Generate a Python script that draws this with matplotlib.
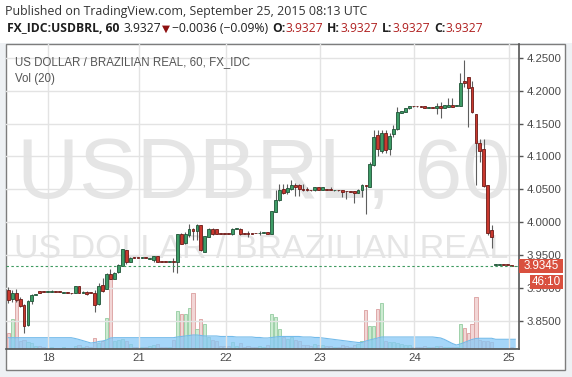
import matplotlib
matplotlib.use("Agg")
import matplotlib.pyplot as plt
import matplotlib.transforms as mtransforms
from matplotlib.patches import Rectangle
import numpy as np

plt.rcParams['font.family'] = ['Liberation Sans', 'DejaVu Sans']

# ---------------- data (USDBRL, 60 min bars, Sep 17-25 2015) ----------------
opens = [3.8971, 3.8834, 3.8919, 3.8834, 3.8743, 3.8432, 3.8804, 3.8895, 3.8945, 3.8941,
         3.8935, 3.8941, 3.8945, 3.8941, 3.8922, 3.8927, 3.8922, 3.8919, 3.9021, 3.8925,
         3.8941, 3.8927, 3.8925, 3.8758, 3.9037, 3.8986, 3.9204, 3.9139, 3.9239, 3.9331,
         3.9570, 3.9392, 3.9462, 3.9457, 3.9455, 3.9460, 3.9438, 3.9418, 3.9479, 3.9400,
         3.9398, 3.9396, 3.9413, 3.9392, 3.9814, 3.9681, 3.9799, 3.9901, 3.9864, 3.9951,
         3.9544, 3.9773, 3.9901, 3.9890, 3.9828, 3.9825, 3.9825, 3.9814, 3.9899, 3.9901,
         3.9827, 3.9825, 3.9825, 3.9836, 3.9831, 3.9836, 3.9849, 3.9825, 4.0154, 4.0343,
         4.0500, 4.0459, 4.0500, 4.0561, 4.0561, 4.0504, 4.0497, 4.0489, 4.0485, 4.0535,
         4.0495, 4.0497, 4.0495, 4.0483, 4.0488, 4.0485, 4.0470, 4.0468, 4.0474, 4.0443,
         4.0485, 4.0565, 4.0535, 4.0866, 4.1323, 4.1083, 4.1349, 4.1105, 4.1333, 4.1414,
         4.1663, 4.1678, 4.1730, 4.1764, 4.1763, 4.1762, 4.1760, 4.1741, 4.1747, 4.1739,
         4.1760, 4.1739, 4.1754, 4.1780, 4.1768, 4.1769, 4.2146, 4.2202, 4.2059, 4.1638,
         4.1211, 4.1105, 4.0561, 3.9875, 3.9348, 3.9350, 3.9355, 3.9352, 3.9350, 3.9327]
highs = [3.9011, 3.8971, 3.8986, 3.8858, 3.8758, 3.8808, 3.8910, 3.8910, 3.8950, 3.8945,
         3.8945, 3.8960, 3.8950, 3.8945, 3.8930, 3.8930, 3.8927, 3.9026, 3.9026, 3.8945,
         3.8945, 3.8930, 3.8960, 3.9072, 3.9154, 3.9220, 3.9281, 3.9239, 3.9367, 3.9593,
         3.9578, 3.9463, 3.9466, 3.9461, 3.9464, 3.9464, 3.9453, 3.9482, 3.9482, 3.9404,
         3.9402, 3.9406, 3.9453, 3.9822, 3.9840, 3.9849, 3.9977, 3.9905, 3.9977, 3.9959,
         3.9791, 3.9913, 3.9905, 3.9897, 3.9832, 3.9829, 3.9829, 3.9905, 3.9908, 3.9905,
         3.9831, 3.9864, 3.9829, 3.9840, 3.9864, 3.9846, 3.9852, 4.0168, 4.0485, 4.0587,
         4.0587, 4.0587, 4.0637, 4.0596, 4.0576, 4.0576, 4.0535, 4.0493, 4.0540, 4.0540,
         4.0540, 4.0501, 4.0535, 4.0492, 4.0492, 4.0490, 4.0472, 4.0472, 4.0478, 4.0500,
         4.0587, 4.0568, 4.0911, 4.1399, 4.1399, 4.1399, 4.1399, 4.1353, 4.1475, 4.1745,
         4.1696, 4.1742, 4.1772, 4.1768, 4.1767, 4.1766, 4.1765, 4.1750, 4.1751, 4.1815,
         4.1830, 4.1785, 4.1891, 4.1891, 4.1776, 4.2263, 4.2466, 4.2205, 4.2146, 4.1640,
         4.1272, 4.1272, 4.0564, 3.9951, 3.9357, 3.9359, 3.9359, 3.9356, 3.9354, 3.9327]
lows = [3.8767, 3.8782, 3.8778, 3.8706, 3.8310, 3.8423, 3.8758, 3.8889, 3.8915, 3.8930,
        3.8930, 3.8935, 3.8935, 3.8930, 3.8917, 3.8917, 3.8912, 3.8915, 3.8915, 3.8920,
        3.8895, 3.8917, 3.8630, 3.8743, 3.8938, 3.8976, 3.9128, 3.9128, 3.9230, 3.9326,
        3.9367, 3.9387, 3.9453, 3.9451, 3.9451, 3.9451, 3.9434, 3.9392, 3.9387, 3.9392,
        3.9389, 3.9392, 3.9239, 3.9224, 3.9662, 3.9672, 3.9773, 3.9723, 3.9723, 3.9562,
        3.9540, 3.9768, 3.9810, 3.9815, 3.9818, 3.9816, 3.9817, 3.9810, 3.9895, 3.9810,
        3.9818, 3.9773, 3.9816, 3.9827, 3.9799, 3.9832, 3.9822, 3.9822, 4.0150, 4.0321,
        4.0434, 4.0434, 4.0485, 4.0393, 4.0393, 4.0474, 4.0469, 4.0480, 4.0480, 4.0490,
        4.0490, 4.0489, 4.0488, 4.0479, 4.0479, 4.0382, 4.0358, 4.0459, 4.0291, 4.0440,
        4.0382, 4.0129, 4.0530, 4.0850, 4.1003, 4.1048, 4.1048, 4.1018, 4.1292, 4.1406,
        4.1658, 4.1672, 4.1727, 4.1756, 4.1755, 4.1754, 4.1735, 4.1737, 4.1738, 4.1643,
        4.1577, 4.1735, 4.1750, 4.1750, 4.1764, 4.1765, 4.2059, 4.1449, 4.1653, 4.0561,
        4.0916, 4.0535, 3.9799, 3.9605, 3.9344, 3.9346, 3.9346, 3.9344, 3.9333, 3.9327]
closes = [3.8819, 3.8925, 3.8819, 3.8717, 3.8416, 3.8793, 3.8895, 3.8904, 3.8919, 3.8935,
          3.8941, 3.8945, 3.8941, 3.8935, 3.8927, 3.8922, 3.8917, 3.9021, 3.8925, 3.8941,
          3.8910, 3.8922, 3.8743, 3.9021, 3.8950, 3.9204, 3.9139, 3.9230, 3.9342, 3.9585,
          3.9392, 3.9459, 3.9457, 3.9455, 3.9460, 3.9455, 3.9447, 3.9479, 3.9392, 3.9396,
          3.9393, 3.9402, 3.9392, 3.9814, 3.9672, 3.9825, 3.9901, 3.9864, 3.9951, 3.9570,
          3.9783, 3.9901, 3.9814, 3.9822, 3.9822, 3.9820, 3.9821, 3.9901, 3.9904, 3.9814,
          3.9822, 3.9821, 3.9820, 3.9831, 3.9836, 3.9842, 3.9825, 4.0164, 4.0343, 4.0485,
          4.0449, 4.0520, 4.0561, 4.0535, 4.0500, 4.0495, 4.0492, 4.0485, 4.0535, 4.0495,
          4.0535, 4.0493, 4.0490, 4.0488, 4.0483, 4.0459, 4.0466, 4.0463, 4.0443, 4.0495,
          4.0561, 4.0556, 4.0881, 4.1288, 4.1105, 4.1349, 4.1094, 4.1307, 4.1414, 4.1669,
          4.1688, 4.1730, 4.1769, 4.1760, 4.1759, 4.1758, 4.1739, 4.1746, 4.1742, 4.1760,
          4.1739, 4.1780, 4.1780, 4.1754, 4.1772, 4.2111, 4.2120, 4.2034, 4.1678, 4.1196,
          4.1083, 4.0550, 3.9840, 3.9773, 3.9353, 3.9355, 3.9350, 3.9348, 3.9337, 3.9327]
volumes = [16, 30, 48, 8, 9, 7, 6, 3, 3, 2,
           1, 2, 1, 1, 2, 1, 1, 3, 4, 2,
           3, 2, 11, 6, 8, 31, 70, 8, 9, 10,
           8, 5, 2, 2, 2, 2, 3, 4, 5, 2,
           2, 2, 9, 38, 35, 35, 41, 56, 20, 30,
           25, 12, 9, 8, 3, 3, 3, 7, 3, 6,
           2, 3, 2, 2, 3, 2, 4, 35, 32, 20,
           12, 10, 12, 9, 8, 4, 4, 3, 5, 4,
           4, 3, 3, 2, 2, 4, 3, 2, 4, 5,
           8, 39, 23, 23, 40, 46, 8, 7, 7, 6,
           5, 4, 4, 2, 2, 2, 3, 2, 2, 3,
           3, 2, 2, 2, 2, 25, 21, 16, 25, 52,
           9, 8, 8, 7, 1, 1, 1, 1, 2, 1]
vol_ma = [11.3, 11.3, 11.3, 11.3, 11.3, 11.3, 11.3, 11.3, 11.3, 11.3,
          11.3, 11.3, 11.3, 11.3, 11.3, 11.3, 11.3, 10.5, 9.5, 8.3,
          7.0, 6.0, 6.5, 7.5, 8.0, 9.0, 11.0, 11.3, 11.3, 11.3,
          11.3, 11.3, 11.3, 11.3, 11.3, 11.3, 11.3, 11.3, 11.3, 11.3,
          11.3, 11.3, 11.3, 12.0, 12.5, 13.0, 13.5, 14.0, 14.0, 13.5,
          13.0, 13.0, 13.0, 13.0, 12.5, 12.5, 12.5, 12.5, 12.0, 12.0,
          12.0, 12.0, 12.0, 11.5, 11.5, 11.0, 11.0, 11.5, 12.0, 12.5,
          12.5, 12.5, 12.5, 12.5, 12.5, 12.0, 12.0, 12.0, 11.5, 11.5,
          11.0, 10.5, 10.0, 9.5, 9.0, 8.5, 8.0, 7.5, 7.0, 6.5,
          6.5, 8.0, 9.0, 10.0, 11.0, 12.0, 12.0, 12.0, 12.0, 12.0,
          12.0, 12.0, 12.0, 12.0, 12.0, 12.0, 12.0, 12.0, 12.0, 11.5,
          11.0, 9.5, 7.5, 5.5, 4.0, 5.0, 6.5, 8.0, 9.5, 10.5,
          10.7, 10.7, 10.7, 10.7, 9.7, 9.7, 9.7, 9.7, 9.7, 9.7]
day_labels = ['18', '21', '22', '23', '24', '25']
day_bar_pos = [10.2, 33.2, 55.3, 79.2, 103.3, 127.3]
last_price = 3.9327
axis_price_label = '3.9345'
countdown = '46:10'

# ---------------- figure ----------------
W, H = 572, 377
fig = plt.figure(figsize=(W / 100, H / 100), dpi=100)
fig.patch.set_facecolor('#eef1f4')


def fr(x0, y0, x1, y1):
    return [x0 / W, 1 - y1 / H, (x1 - x0) / W, (y1 - y0) / H]


fig.add_artist(Rectangle((0, 1 - 43 / H), 1, 43 / H, transform=fig.transFigure,
                         fc='white', ec='none', zorder=0))
fig.add_artist(Rectangle((5.5 / W, 1 - 369.5 / H), 559 / W, 326 / H, transform=fig.transFigure,
                         fc='white', ec='#7d7d7d', lw=1.0, zorder=0))

ax = fig.add_axes(fr(6, 44, 519, 349))
axv = ax.twinx()
ax.set_zorder(axv.get_zorder() + 1)
ax.patch.set_visible(False)
axv.patch.set_facecolor('white')

o = np.array(opens); h = np.array(highs); l = np.array(lows); c = np.array(closes)
v = np.array(volumes, dtype=float); ma = np.array(vol_ma)
x = np.arange(len(o))
up = c >= o

ax.set_xlim(-0.585, 129.95)
ax.set_ylim(3.8069, 4.2710)
axv.set_ylim(0, 304.5)

# volume
vfc = np.where(up[:, None], np.array([[0.80, 0.92, 0.82]]), np.array([[0.95, 0.84, 0.84]]))
vec = np.where(up[:, None], np.array([[0.58, 0.80, 0.63]]), np.array([[0.86, 0.62, 0.62]]))
axv.bar(x, v, width=0.8, color=vfc, edgecolor=vec, linewidth=0.6, zorder=1)
axv.fill_between(x, 0, ma, color=(0.53, 0.79, 0.97), alpha=0.75, lw=0, zorder=2)
axv.plot(x, ma, color='#74bbea', lw=0.8, zorder=3)
axv.set_yticks([])
for s in axv.spines.values():
    s.set_visible(False)
axv.tick_params(right=False, labelright=False)

# watermark
ax.text(0.502, 0.495, 'USDBRL, 60', transform=ax.transAxes, ha='center', va='baseline',
        fontsize=62, color='#e5e5e5', zorder=0.5)
ax.text(0.498, 0.298, 'US DOLLAR / BRAZILIAN REAL', transform=ax.transAxes, ha='center',
        va='baseline', fontsize=24.5, color='#e5e5e5', zorder=0.5)

# grid
ax.set_yticks(np.round(np.arange(3.85, 4.2501, 0.05), 2))
ax.yaxis.set_major_formatter(matplotlib.ticker.FormatStrFormatter('%.4f'))
ax.set_xticks(day_bar_pos)
ax.set_xticklabels(day_labels)
ax.grid(True, color='#e3e3e3', lw=1.0, zorder=0.6)
ax.set_axisbelow(True)

# candles
ax.vlines(x, l, h, color='#5e5e5e', lw=0.8, zorder=3)
bfc = np.where(up[:, None], np.array([[0.24, 0.61, 0.40]]), np.array([[0.79, 0.22, 0.18]]))
bec = np.where(up[:, None], np.array([[0.12, 0.32, 0.21]]), np.array([[0.42, 0.10, 0.09]]))
bottoms = np.minimum(o, c)
heights = np.maximum(np.abs(c - o), 0.0009)
ax.bar(x, heights, bottom=bottoms, width=0.72, color=bfc, edgecolor=bec, linewidth=0.6, zorder=4)

# last price line
ax.axhline(last_price, color='#3f9a60', lw=0.8, ls=(0, (2.2, 2.2)), zorder=5)

# axes styling
ax.yaxis.tick_right()
ax.tick_params(axis='y', right=True, left=False, labelright=True, labelleft=False,
               length=3, width=1, color='#555555', pad=2.5, labelsize=8.2, labelcolor='#4a4a4a')
ax.tick_params(axis='x', length=0, pad=3, labelsize=8.2, labelcolor='#4a4a4a')
ax.spines['left'].set_visible(False)
ax.spines['top'].set_visible(False)
for k in ('right', 'bottom'):
    ax.spines[k].set_color('#555555')
    ax.spines[k].set_linewidth(1.2)

# price-axis boxes
bt = mtransforms.blended_transform_factory(ax.transAxes, ax.transData)
ph = 14 / 657.0
ax.add_patch(Rectangle((1.0, last_price - ph / 2), 44 / 513, ph, transform=bt, clip_on=False,
                       fc='#d9503f', ec='none', zorder=10))
ax.text(1.0 + 22.5 / 513, last_price, axis_price_label, transform=bt, ha='center', va='center',
        fontsize=8.4, color='white', zorder=11, clip_on=False)
cd_y = last_price - 16 / 657.0
ax.add_patch(Rectangle((1.0 + 11 / 513, cd_y - ph / 2), 33 / 513, ph, transform=bt, clip_on=False,
                       fc='#d9503f', ec='none', zorder=10))
ax.text(1.0 + 27.5 / 513, cd_y, countdown, transform=bt, ha='center', va='center',
        fontsize=8.4, color='white', zorder=11, clip_on=False)

# in-chart legends
ax.text(9 / 513, (349 - 62) / 305, 'US DOLLAR / BRAZILIAN REAL, 60, FX_IDC', transform=ax.transAxes,
        ha='left', va='center', fontsize=8.3, color='#555555', zorder=12)
ax.text(9 / 513, (349 - 79) / 305, 'Vol (20)', transform=ax.transAxes,
        ha='left', va='center', fontsize=8.3, color='#555555', zorder=12)

# header
hf = ['Open Sans', 'DejaVu Sans']
fig.text(5 / W, 1 - 11 / H, 'Published on TradingView.com, September 25, 2015 08:13 UTC',
         ha='left', va='center', fontsize=8.9, color='#333333', family=hf)
segs = [('FX_IDC:USDBRL, 60', 'bold', '#1e1e1e', 0),
        ('3.9327', 'normal', '#1e1e1e', 3),
        ('\u25BC', 'normal', '#8e1010', 1),
        ('\u22120.0036 (\u22120.09%)', 'normal', '#1e1e1e', 1),
        ('O:', 'bold', '#1e1e1e', 3),
        ('3.9327', 'normal', '#b02020', 0),
        ('H:', 'bold', '#1e1e1e', 3),
        ('3.9327', 'normal', '#b02020', 0),
        ('L:', 'bold', '#1e1e1e', 3),
        ('3.9327', 'normal', '#b02020', 0),
        ('C:', 'bold', '#1e1e1e', 3),
        ('3.9327', 'normal', '#b02020', 0)]
prev = fig.text(7 / W, 1 - 35 / H, segs[0][0], ha='left', va='bottom', fontsize=8.7,
                fontweight=segs[0][1], color=segs[0][2], family=hf)
for txt, wt, col, gap in segs[1:]:
    fs = 7.5 if txt == '\u25BC' else 8.7
    prev = ax.annotate(txt, xy=(1, 0), xycoords=prev, xytext=(gap, 0), textcoords='offset points',
                       ha='left', va='bottom', fontsize=fs, fontweight=wt, color=col, family=hf,
                       annotation_clip=False)

fig.savefig('out.png', dpi=100, facecolor=fig.get_facecolor())
